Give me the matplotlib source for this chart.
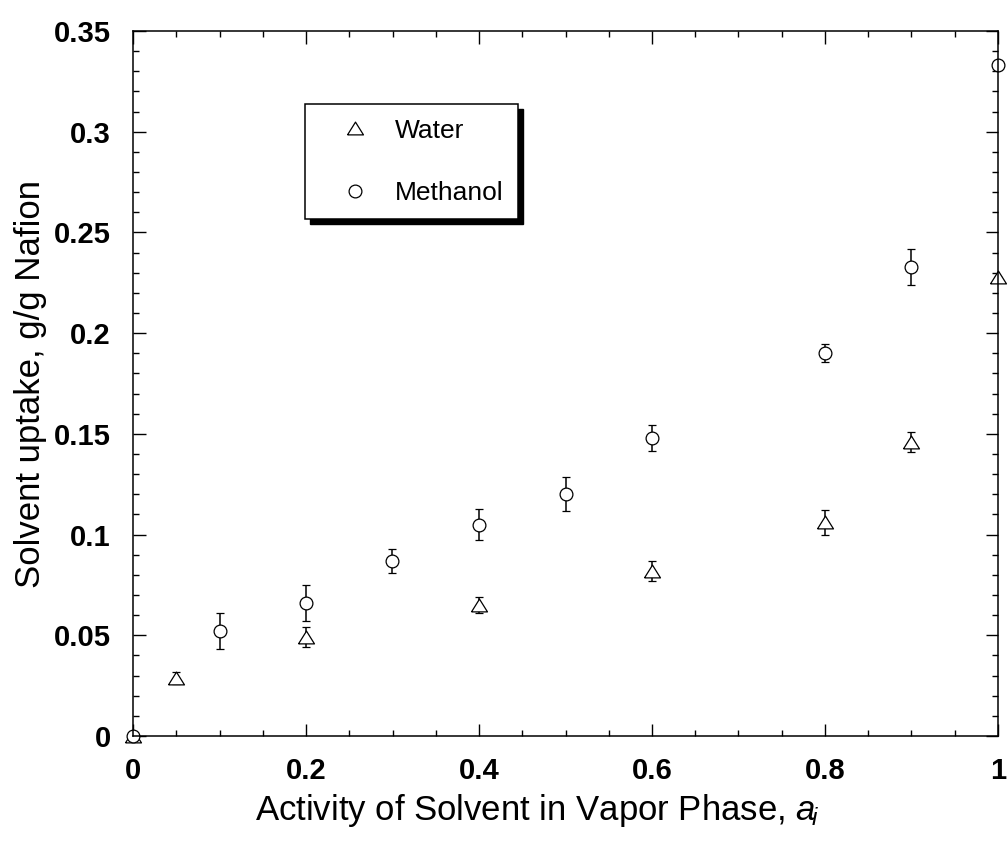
import matplotlib
matplotlib.use("Agg")
import matplotlib.pyplot as plt
from matplotlib.ticker import MultipleLocator, FuncFormatter
from matplotlib.patches import Rectangle
from matplotlib.transforms import IdentityTransform

# Vapor-phase activity and solvent uptake (g solvent / g Nafion)
water_activity = [0.0, 0.05, 0.2, 0.4, 0.6, 0.8, 0.9, 1.0]
water_uptake = [0.0, 0.029, 0.049, 0.065, 0.082, 0.106, 0.146, 0.228]
water_err = [0.0, 0.003, 0.005, 0.004, 0.005, 0.006, 0.005, 0.0]

methanol_activity = [0.0, 0.1, 0.2, 0.3, 0.4, 0.5, 0.6, 0.8, 0.9, 1.0]
methanol_uptake = [0.0, 0.052, 0.066, 0.087, 0.105, 0.120, 0.148, 0.190, 0.233, 0.333]
methanol_err = [0.0, 0.009, 0.009, 0.006, 0.0077, 0.0085, 0.0065, 0.0045, 0.009, 0.0]

x_ticks = [0, 0.2, 0.4, 0.6, 0.8, 1.0]
y_ticks = [0, 0.05, 0.1, 0.15, 0.2, 0.25, 0.3, 0.35]

plt.rcParams["font.family"] = ["Liberation Sans", "DejaVu Sans"]
plt.rcParams["mathtext.fontset"] = "custom"
plt.rcParams["mathtext.rm"] = "Liberation Sans"
plt.rcParams["mathtext.it"] = "Liberation Sans:italic"

fig = plt.figure(figsize=(10.08, 8.44), dpi=100)
ax = fig.add_axes([133 / 1008, 1 - 736 / 844, 865 / 1008, 705 / 844])

# flat-bottomed triangle, a little wider than tall
tri = [(-1.25, -1.0), (1.25, -1.0), (0.0, 1.0), (-1.25, -1.0)]

common = dict(linestyle="none", color="black", ecolor="black", elinewidth=1.1,
              capsize=3.2, capthick=1.1, markerfacecolor="white",
              markeredgecolor="black", markeredgewidth=0.9, clip_on=False)

water_bars = ax.errorbar(water_activity, water_uptake, yerr=water_err,
                         marker=tri, markersize=11.5, **common)
methanol_bars = ax.errorbar(methanol_activity, methanol_uptake,
                            yerr=methanol_err, marker="o", markersize=9.2,
                            **common)

ax.set_xlim(0, 1)
ax.set_ylim(0, 0.35)
ax.set_xticks(x_ticks)
ax.set_yticks(y_ticks)
ax.xaxis.set_minor_locator(MultipleLocator(0.05))
ax.yaxis.set_minor_locator(MultipleLocator(0.01))

fmt = FuncFormatter(lambda v, p: f"{v:g}")
ax.xaxis.set_major_formatter(fmt)
ax.yaxis.set_major_formatter(fmt)

ax.tick_params(which="both", direction="in", top=True, right=True, width=1.0)
ax.tick_params(which="major", length=9)
ax.tick_params(which="minor", length=4.5)
ax.tick_params(axis="x", which="major", pad=15)
ax.tick_params(axis="y", which="major", pad=16)
for lab in ax.get_xticklabels() + ax.get_yticklabels():
    lab.set_fontsize(21)
    lab.set_fontweight("bold")
for s in ax.spines.values():
    s.set_linewidth(1.1)

ax.set_xlabel("Activity of Solvent in Vapor Phase, $a_{\\!i}$", fontsize=25)
ax.xaxis.set_label_coords(0.467, -0.106, transform=ax.transAxes)
ax.xaxis.label.set_va("center")
ax.set_ylabel("Solvent uptake, g/g Nafion", fontsize=25, labelpad=5)

# legend shows the bare markers only
leg = ax.legend([water_bars[0], methanol_bars[0]], ["Water", "Methanol"],
                loc="upper left",
                bbox_to_anchor=((305 - 133) / 865, (736 - 104) / 705),
                fontsize=19, frameon=True, fancybox=False, edgecolor="black",
                framealpha=1, borderpad=0.55, labelspacing=1.45,
                handlelength=2.7, handletextpad=0.15, numpoints=1,
                borderaxespad=0)
leg.get_frame().set_linewidth(1.1)
leg.set_zorder(10)

# solid drop shadow behind the legend box
fig.canvas.draw()
bb = leg.get_window_extent()
shadow = Rectangle((bb.x0 + 5, bb.y0 - 5), bb.width, bb.height,
                   transform=IdentityTransform(), facecolor="black",
                   edgecolor="black", zorder=9, clip_on=False)
ax.add_artist(shadow)

fig.savefig("out.png", dpi=100)
